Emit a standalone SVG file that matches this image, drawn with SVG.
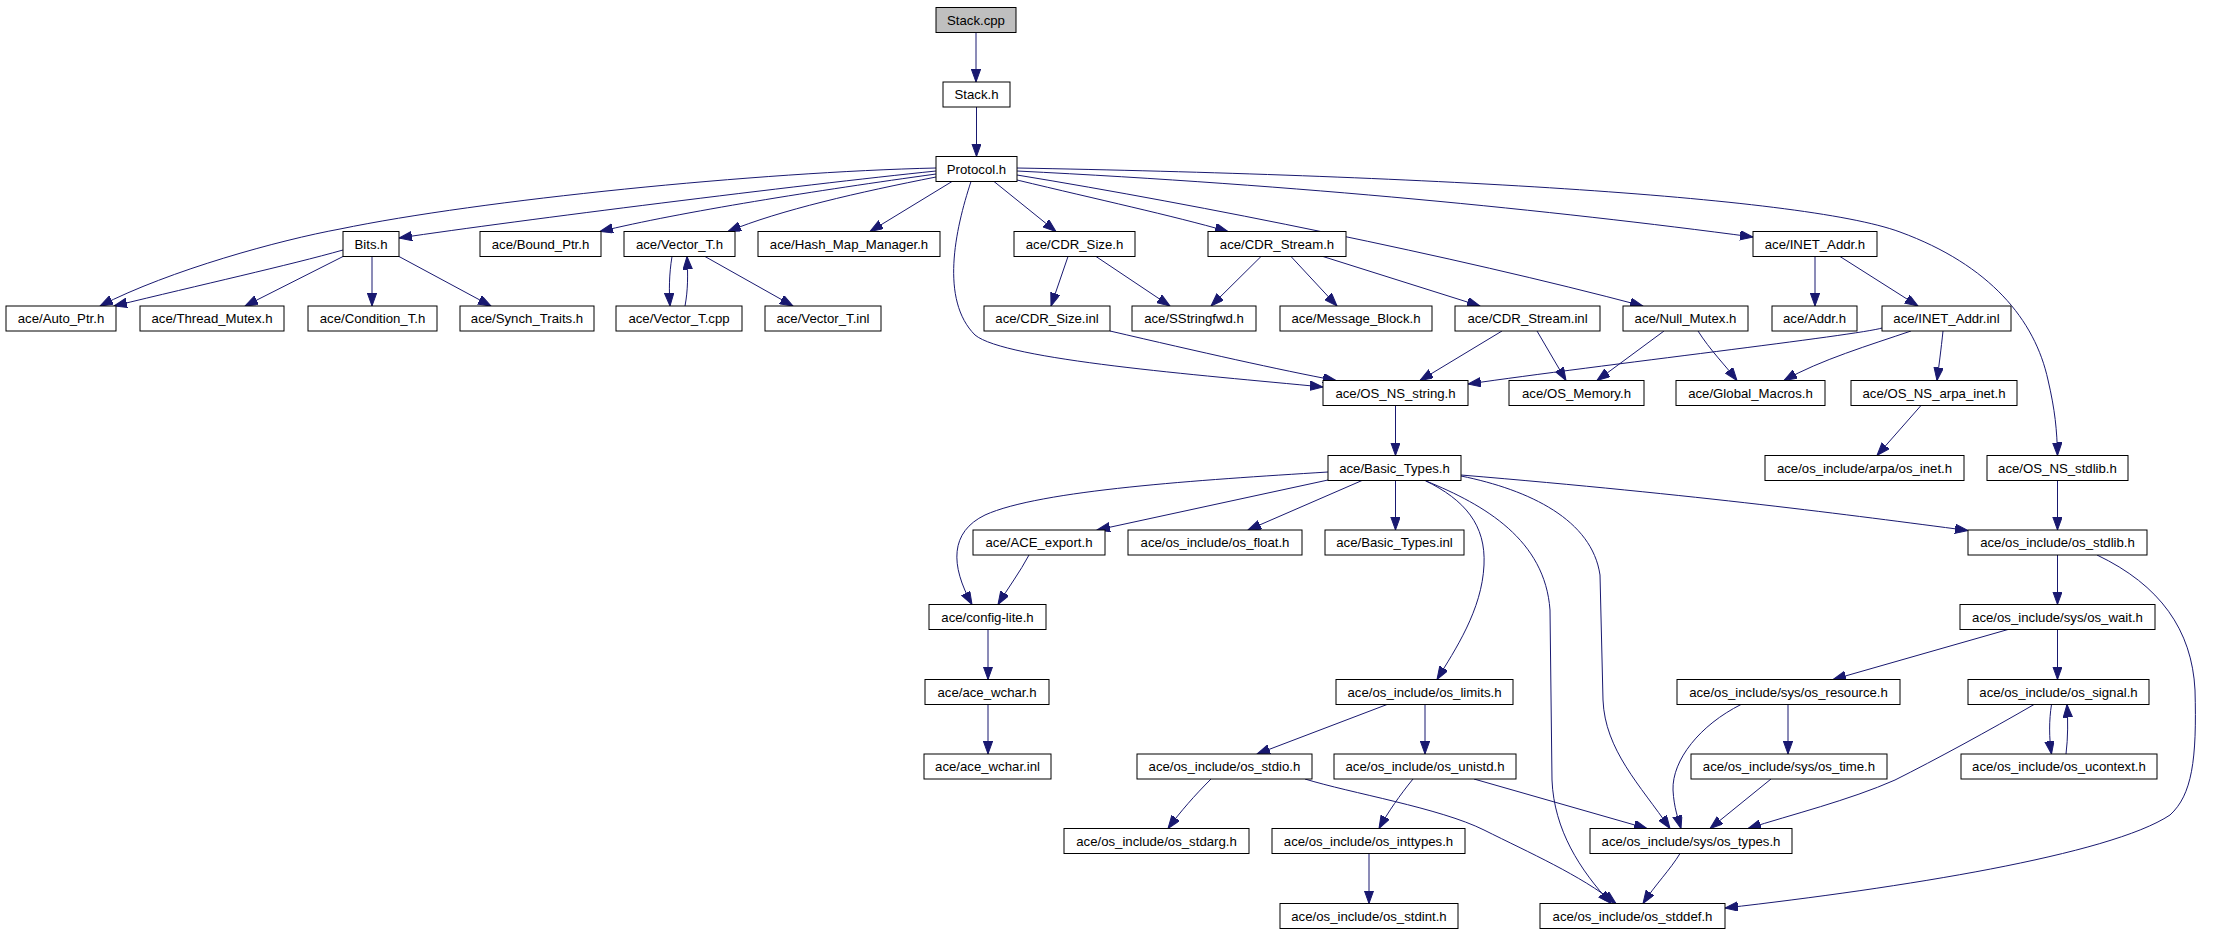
<svg xmlns="http://www.w3.org/2000/svg" width="2213" height="933" viewBox="0 0 2213 933">
<defs>
<style>
.n rect{fill:#ffffff;stroke:#000000;stroke-width:1}
.n.root rect{fill:#bfbfbf}
.n text{font-family:"Liberation Sans",Arial,sans-serif;font-size:13.2px;fill:#000000;text-anchor:middle}
.e path{fill:none;stroke:#191970;stroke-width:1;marker-end:url(#ah)}
</style>
<marker id="ah" markerUnits="userSpaceOnUse" markerWidth="14" markerHeight="10" refX="13" refY="4.7" orient="auto">
<path d="M0,0 L13,4.7 L0,9.4 Z" fill="#191970" stroke="#191970" stroke-width="1"/>
</marker>
</defs>
<rect x="0" y="0" width="2213" height="933" fill="#ffffff"/>
<g id="connectors" class="e">
<path d="M976,32.5 L976,82"/>
<path d="M976.5,107 L976.5,156.5"/>
<path d="M936,168 C760,172 480,200 340,229 C280,240 170,270 100,306"/>
<path d="M936,171 C800,185 520,220 399,238"/>
<path d="M936,174 C820,190 680,212 600,231.5"/>
<path d="M936,177 C860,192 780,210 728,231.5"/>
<path d="M952,181.5 L870,231.5"/>
<path d="M971,181.5 C955,230 940,300 975,335 C1005,360 1200,375 1323,387"/>
<path d="M994,181.5 L1056,231.5"/>
<path d="M1017,180 C1100,200 1170,215 1228,231.5"/>
<path d="M1017,175 C1200,205 1450,255 1643,306"/>
<path d="M1017,171 C1300,185 1550,210 1753,237"/>
<path d="M1017,168 C1400,175 1800,195 1900,232 C1990,265 2035,320 2048,380 C2055,410 2057,430 2057.5,455.5"/>
<path d="M343,250 C290,265 200,285 114,306"/>
<path d="M343,256.5 L245,306"/>
<path d="M372,256.5 L372,306"/>
<path d="M399,256.5 L491,306"/>
<path d="M672,256.5 C669,275 669,290 670,306"/>
<path d="M685,306 C688,290 688,275 687,256.5"/>
<path d="M705,256.5 L793,306"/>
<path d="M1068,256.5 L1051,306"/>
<path d="M1096,256.5 L1170,306"/>
<path d="M1261,256.5 L1211,306"/>
<path d="M1291,256.5 L1337,306"/>
<path d="M1323,256.5 L1480,306"/>
<path d="M1815,256.5 L1815,306"/>
<path d="M1840,256.5 L1918,306"/>
<path d="M1110,331 C1200,352 1280,370 1336,380.5"/>
<path d="M1502,331 L1420,380.5"/>
<path d="M1537,331 L1566,380.5"/>
<path d="M1664,331 L1597,380.5"/>
<path d="M1698,331 C1710,350 1725,365 1737,380.5"/>
<path d="M1882,328 C1860,335 1600,365 1468,384"/>
<path d="M1911,331 C1870,345 1820,360 1784,380.5"/>
<path d="M1943,331 C1941,350 1939,365 1937,380.5"/>
<path d="M1921,405.5 L1877,455.5"/>
<path d="M1395.5,405.5 L1395.5,455.5"/>
<path d="M2057.5,480.5 L2057.5,530"/>
<path d="M2057.5,555 L2057.5,604.5"/>
<path d="M2057.5,629.5 L2057.5,679.5"/>
<path d="M2008,629.5 L1833,679.5"/>
<path d="M2097,555 C2160,585 2192,630 2195,690 C2197,760 2192,795 2170,815 C2110,855 1900,888 1725,908"/>
<path d="M1328,472 C1200,480 1040,490 985,515 C950,532 950,565 972,604.5"/>
<path d="M1328,480 L1097,530"/>
<path d="M1362,480.5 L1248,530"/>
<path d="M1395.5,480.5 L1395.5,530"/>
<path d="M1425,480.5 C1465,500 1486,525 1484,565 C1482,610 1455,650 1437,679.5"/>
<path d="M1426,481 C1485,505 1545,540 1550,610 L1552,780 C1554,830 1580,870 1611,903.5"/>
<path d="M1461,476 C1530,490 1592,520 1600,575 L1603,700 C1605,750 1640,785 1670,828.5"/>
<path d="M1461,475 C1700,495 1850,515 1968,530.5"/>
<path d="M1029,555 C1020,572 1008,588 998,604.5"/>
<path d="M988,629.5 L988,679.5"/>
<path d="M988,704.5 L988,754"/>
<path d="M1387,704.5 L1257,754"/>
<path d="M1425,704.5 L1425,754"/>
<path d="M1211,779 C1195,795 1180,812 1168,828.5"/>
<path d="M1305,779 C1350,793 1440,808 1484,830 C1530,853 1580,875 1616,903.5"/>
<path d="M1413,779 C1400,795 1388,812 1379,828.5"/>
<path d="M1474,779 L1647,828.5"/>
<path d="M1369,853.5 L1369,903.5"/>
<path d="M1680,853.5 C1670,870 1655,885 1643,903.5"/>
<path d="M1741,704.5 C1700,725 1672,760 1673,790 C1674,808 1678,818 1681,828.5"/>
<path d="M1788,704.5 L1788,754"/>
<path d="M1771,779 L1710,828.5"/>
<path d="M2034,704.5 C1990,730 1935,760 1895,780 C1850,800 1790,815 1748,828.5"/>
<path d="M2051.5,704.5 C2049,720 2049,738 2051.5,754"/>
<path d="M2066,754 C2068,738 2068,720 2067,704.5"/>
</g>
<g id="stack_cpp" class="n root"><rect x="936" y="7.5" width="80" height="25"/><text x="976" y="24.5">Stack.cpp</text></g>
<g id="stack_h" class="n"><rect x="943" y="82" width="67" height="25"/><text x="976.5" y="99">Stack.h</text></g>
<g id="protocol_h" class="n"><rect x="936" y="156.5" width="81" height="25"/><text x="976.5" y="173.5">Protocol.h</text></g>
<g id="bits_h" class="n"><rect x="343" y="231.5" width="56" height="25"/><text x="371" y="248.5">Bits.h</text></g>
<g id="bound_ptr_h" class="n"><rect x="480" y="231.5" width="121" height="25"/><text x="540.5" y="248.5">ace/Bound_Ptr.h</text></g>
<g id="vector_t_h" class="n"><rect x="624" y="231.5" width="111" height="25"/><text x="679.5" y="248.5">ace/Vector_T.h</text></g>
<g id="hash_map_manager_h" class="n"><rect x="758" y="231.5" width="182" height="25"/><text x="849" y="248.5">ace/Hash_Map_Manager.h</text></g>
<g id="cdr_size_h" class="n"><rect x="1014" y="231.5" width="121" height="25"/><text x="1074.5" y="248.5">ace/CDR_Size.h</text></g>
<g id="cdr_stream_h" class="n"><rect x="1208" y="231.5" width="138" height="25"/><text x="1277" y="248.5">ace/CDR_Stream.h</text></g>
<g id="inet_addr_h" class="n"><rect x="1753" y="231.5" width="124" height="25"/><text x="1815" y="248.5">ace/INET_Addr.h</text></g>
<g id="auto_ptr_h" class="n"><rect x="6" y="306" width="110" height="25"/><text x="61" y="323">ace/Auto_Ptr.h</text></g>
<g id="thread_mutex_h" class="n"><rect x="140" y="306" width="144" height="25"/><text x="212" y="323">ace/Thread_Mutex.h</text></g>
<g id="condition_t_h" class="n"><rect x="308" y="306" width="129" height="25"/><text x="372.5" y="323">ace/Condition_T.h</text></g>
<g id="synch_traits_h" class="n"><rect x="460" y="306" width="134" height="25"/><text x="527" y="323">ace/Synch_Traits.h</text></g>
<g id="vector_t_cpp" class="n"><rect x="616" y="306" width="126" height="25"/><text x="679" y="323">ace/Vector_T.cpp</text></g>
<g id="vector_t_inl" class="n"><rect x="765" y="306" width="116" height="25"/><text x="823" y="323">ace/Vector_T.inl</text></g>
<g id="cdr_size_inl" class="n"><rect x="984" y="306" width="126" height="25"/><text x="1047" y="323">ace/CDR_Size.inl</text></g>
<g id="sstringfwd_h" class="n"><rect x="1132" y="306" width="124" height="25"/><text x="1194" y="323">ace/SStringfwd.h</text></g>
<g id="message_block_h" class="n"><rect x="1280" y="306" width="152" height="25"/><text x="1356" y="323">ace/Message_Block.h</text></g>
<g id="cdr_stream_inl" class="n"><rect x="1455" y="306" width="145" height="25"/><text x="1527.5" y="323">ace/CDR_Stream.inl</text></g>
<g id="null_mutex_h" class="n"><rect x="1623" y="306" width="125" height="25"/><text x="1685.5" y="323">ace/Null_Mutex.h</text></g>
<g id="addr_h" class="n"><rect x="1772" y="306" width="85" height="25"/><text x="1814.5" y="323">ace/Addr.h</text></g>
<g id="inet_addr_inl" class="n"><rect x="1882" y="306" width="129" height="25"/><text x="1946.5" y="323">ace/INET_Addr.inl</text></g>
<g id="os_ns_string_h" class="n"><rect x="1323" y="380.5" width="145" height="25"/><text x="1395.5" y="397.5">ace/OS_NS_string.h</text></g>
<g id="os_memory_h" class="n"><rect x="1509" y="380.5" width="135" height="25"/><text x="1576.5" y="397.5">ace/OS_Memory.h</text></g>
<g id="global_macros_h" class="n"><rect x="1676" y="380.5" width="149" height="25"/><text x="1750.5" y="397.5">ace/Global_Macros.h</text></g>
<g id="os_ns_arpa_inet_h" class="n"><rect x="1851" y="380.5" width="166" height="25"/><text x="1934" y="397.5">ace/OS_NS_arpa_inet.h</text></g>
<g id="basic_types_h" class="n"><rect x="1328" y="455.5" width="133" height="25"/><text x="1394.5" y="472.5">ace/Basic_Types.h</text></g>
<g id="os_inet_h" class="n"><rect x="1765" y="455.5" width="199" height="25"/><text x="1864.5" y="472.5">ace/os_include/arpa/os_inet.h</text></g>
<g id="os_ns_stdlib_h" class="n"><rect x="1987" y="455.5" width="141" height="25"/><text x="2057.5" y="472.5">ace/OS_NS_stdlib.h</text></g>
<g id="ace_export_h" class="n"><rect x="973" y="530" width="132" height="25"/><text x="1039" y="547">ace/ACE_export.h</text></g>
<g id="os_float_h" class="n"><rect x="1128" y="530" width="174" height="25"/><text x="1215" y="547">ace/os_include/os_float.h</text></g>
<g id="basic_types_inl" class="n"><rect x="1325" y="530" width="139" height="25"/><text x="1394.5" y="547">ace/Basic_Types.inl</text></g>
<g id="os_stdlib_h" class="n"><rect x="1968" y="530" width="179" height="25"/><text x="2057.5" y="547">ace/os_include/os_stdlib.h</text></g>
<g id="config_lite_h" class="n"><rect x="929" y="604.5" width="117" height="25"/><text x="987.5" y="621.5">ace/config-lite.h</text></g>
<g id="os_wait_h" class="n"><rect x="1960" y="604.5" width="195" height="25"/><text x="2057.5" y="621.5">ace/os_include/sys/os_wait.h</text></g>
<g id="ace_wchar_h" class="n"><rect x="925" y="679.5" width="124" height="25"/><text x="987" y="696.5">ace/ace_wchar.h</text></g>
<g id="os_limits_h" class="n"><rect x="1336" y="679.5" width="177" height="25"/><text x="1424.5" y="696.5">ace/os_include/os_limits.h</text></g>
<g id="os_resource_h" class="n"><rect x="1677" y="679.5" width="223" height="25"/><text x="1788.5" y="696.5">ace/os_include/sys/os_resource.h</text></g>
<g id="os_signal_h" class="n"><rect x="1968" y="679.5" width="181" height="25"/><text x="2058.5" y="696.5">ace/os_include/os_signal.h</text></g>
<g id="ace_wchar_inl" class="n"><rect x="924" y="754" width="127" height="25"/><text x="987.5" y="771">ace/ace_wchar.inl</text></g>
<g id="os_stdio_h" class="n"><rect x="1137" y="754" width="175" height="25"/><text x="1224.5" y="771">ace/os_include/os_stdio.h</text></g>
<g id="os_unistd_h" class="n"><rect x="1334" y="754" width="182" height="25"/><text x="1425" y="771">ace/os_include/os_unistd.h</text></g>
<g id="os_time_h" class="n"><rect x="1691" y="754" width="196" height="25"/><text x="1789" y="771">ace/os_include/sys/os_time.h</text></g>
<g id="os_ucontext_h" class="n"><rect x="1961" y="754" width="196" height="25"/><text x="2059" y="771">ace/os_include/os_ucontext.h</text></g>
<g id="os_stdarg_h" class="n"><rect x="1064" y="828.5" width="185" height="25"/><text x="1156.5" y="845.5">ace/os_include/os_stdarg.h</text></g>
<g id="os_inttypes_h" class="n"><rect x="1272" y="828.5" width="193" height="25"/><text x="1368.5" y="845.5">ace/os_include/os_inttypes.h</text></g>
<g id="os_types_h" class="n"><rect x="1590" y="828.5" width="202" height="25"/><text x="1691" y="845.5">ace/os_include/sys/os_types.h</text></g>
<g id="os_stdint_h" class="n"><rect x="1280" y="903.5" width="178" height="25"/><text x="1369" y="920.5">ace/os_include/os_stdint.h</text></g>
<g id="os_stddef_h" class="n"><rect x="1540" y="903.5" width="185" height="25"/><text x="1632.5" y="920.5">ace/os_include/os_stddef.h</text></g>
</svg>
